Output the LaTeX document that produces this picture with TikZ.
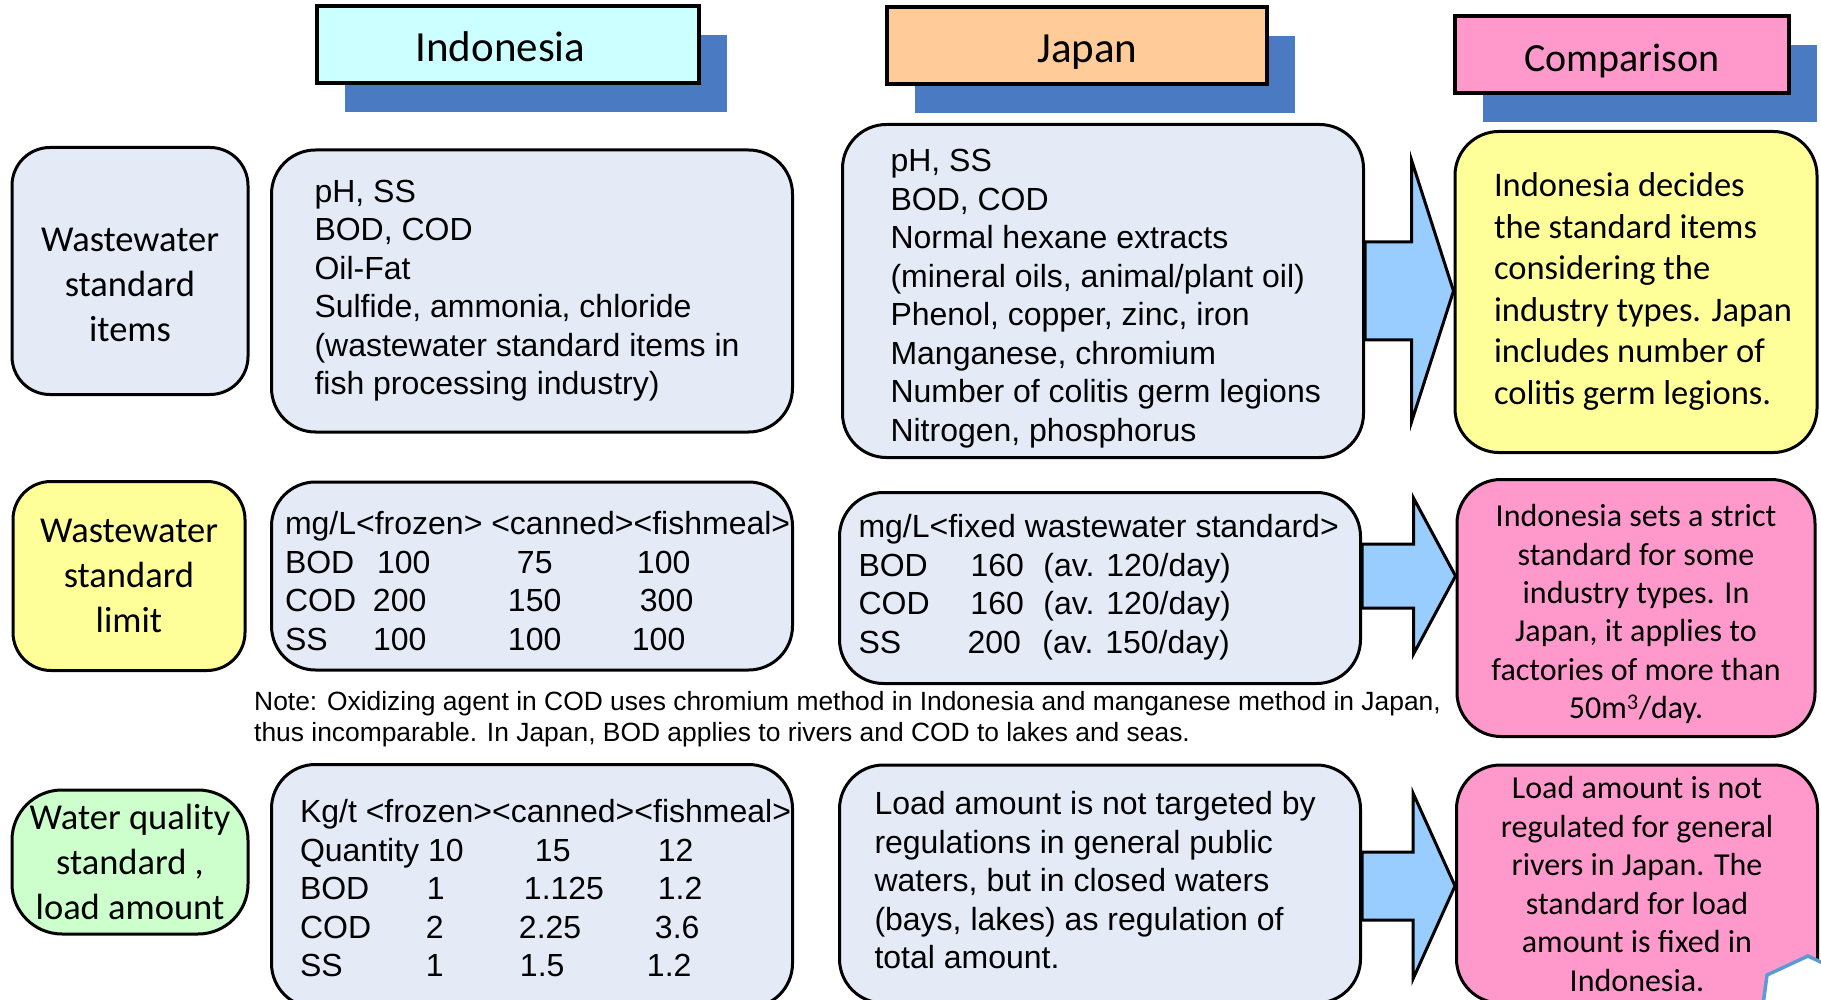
\documentclass[tikz,border=0pt]{standalone}
\usepackage{fontspec}
\setmainfont{Liberation Sans}
\newfontfamily\carlito{Carlito}
\usepackage{tikz}
\usetikzlibrary{positioning,calc,shadows}

\definecolor{bodyblue}{HTML}{E4EBF7}
\definecolor{lightyellow}{HTML}{FFFF99}
\definecolor{lightpink}{HTML}{FF99CC}
\definecolor{lightgreen}{HTML}{CCFFCC}
\definecolor{lightcyan}{HTML}{CCFFFF}
\definecolor{peach}{HTML}{FFCC99}
\definecolor{shadowblue}{HTML}{4A7BC2}
\definecolor{arrowblue}{HTML}{99CCFF}
\definecolor{badgeblue}{HTML}{5B9BD5}

% a cell of given width, and a left aligned block that may run over on the right
% (optional first argument: how far the text sits below the middle of its box)
\newcommand\tcell[2]{\makebox[#1pt][l]{#2}}
\newcommand\lefttext[3][0]{\raisebox{-#1pt}[\height][\depth]{\makebox[#2pt][l]{\begin{tabular}{@{}l@{}}#3\end{tabular}}}}
\newcommand\midtext[2]{\raisebox{-#1pt}[\height][\depth]{\begin{tabular}{@{}c@{}}#2\end{tabular}}}

\tikzset{
  headbox/.style={draw, line width=4pt, minimum height=77pt, inner sep=0pt,
    text height=34pt, text depth=0pt,
    font=\carlito\fontsize{43}{50}\selectfont,
    drop shadow={shadow xshift=28pt, shadow yshift=-29pt, fill=shadowblue, opacity=1}},
  labelbox/.style={draw, line width=3pt, rounded corners=38pt, minimum width=236pt,
    inner sep=0pt, align=center, font=\carlito\fontsize{36.5}{45}\selectfont},
  bodybox/.style={draw, line width=3pt, rounded corners=44pt, fill=bodyblue,
    minimum width=521pt, inner sep=0pt, font=\fontsize{32}{38.5}\selectfont},
  cmpbox/.style={draw, line width=3pt, rounded corners=44pt, inner sep=0pt,
    align=center, font=\carlito\fontsize{32}{37.5}\selectfont},
  bigarrow/.style={draw, line width=3pt, fill=arrowblue, line join=miter},
  badge/.style={draw=badgeblue, line width=3.5pt, fill=white}
}

\begin{document}
\begin{tikzpicture}[x=1pt, y=-1pt]
    \useasboundingbox (0,0) rectangle (1821,1000);

    % column heads
    \node[headbox, fill=lightcyan, minimum width=382pt] (hindo) at (508,45) {Indonesia\hspace*{15pt}};
    \node[headbox, fill=peach, minimum width=380pt] (hjapan) at (1077,46) {\hspace*{21pt}Japan};
    \node[headbox, fill=lightpink, minimum width=334pt,
          font=\carlito\fontsize{40}{48}\selectfont] (hcomp) at (1622,55) {Comparison};

    % standard items
    \node[labelbox, fill=bodyblue, minimum height=247pt] (lab1) at (130,271)
          {\midtext{17}{Wastewater\\standard\\items}};
    \node[bodybox, minimum height=282pt] (id1) at (532,291) {\lefttext{435}{pH, SS\\BOD, COD\\Oil-Fat\\Sulfide, ammonia, chloride\\(wastewater standard items in\\fish processing industry)}};
    \node[bodybox, minimum height=333pt, right=47pt of id1] (jp1) {\lefttext[8]{425}{pH, SS\\BOD, COD\\Normal hexane extracts\\(mineral oils, animal/plant oil)\\Phenol, copper, zinc, iron\\Manganese, chromium\\Number of colitis germ legions\\Nitrogen, phosphorus}};
    \node[cmpbox, fill=lightyellow, minimum width=362pt, minimum height=321pt,
          font=\carlito\fontsize{34.5}{41.5}\selectfont] (cmp1) at (1636,292)
          {\lefttext{284}{Indonesia decides\\the standard items\\considering the\\industry types. Japan\\includes number of\\colitis germ legions.}};

    % standard limit
    \node[labelbox, fill=lightyellow, minimum width=232pt, minimum height=189pt] (lab2) at (129,576) {Wastewater\\standard\\limit};
    \node[bodybox, minimum height=188pt] (id2) at (532,576) {\lefttext[9]{494}{mg/L<frozen> <canned><fishmeal>\\
        \tcell{92}{BOD}\tcell{140}{100}\tcell{120}{75}100\\
        \tcell{88}{COD}\tcell{135}{200}\tcell{132}{150}300\\
        \tcell{88}{SS}\tcell{135}{100}\tcell{124}{100}100}};
    \node[bodybox, minimum height=191pt] (jp2) at (1100,588) {\lefttext{483}{mg/L<fixed wastewater standard>\\
        \tcell{112}{BOD}\tcell{73}{160}(av. 120/day)\\
        \tcell{112}{COD}\tcell{73}{160}(av. 120/day)\\
        \tcell{109}{SS}\tcell{75}{200}(av. 150/day)}};
    \node[cmpbox, fill=lightpink, minimum width=358pt, minimum height=257pt,
          font=\carlito\fontsize{32}{38.3}\selectfont] (cmp2) at (1636,608)
          {\midtext{7}{Indonesia sets a strict\\standard for some\\industry types. In\\Japan, it applies to\\factories of more than\\50m\textsuperscript{3}/day.}};
    \node[anchor=west, align=left, inner sep=0pt, font=\fontsize{26.4}{31}\selectfont] (note) at (254,719)
          {Note: Oxidizing agent in COD uses chromium method in Indonesia and manganese method in Japan,\\thus incomparable. In Japan, BOD applies to rivers and COD to lakes and seas.};

    % load amount
    \node[labelbox, fill=lightgreen, rounded corners=50pt, minimum height=144pt] (lab3) at (130,862) {Water quality\\standard ,\\load amount};
    \node[bodybox, minimum height=243pt] (id3) at (532,886) {\lefttext[6]{464}{Kg/t <frozen><canned><fishmeal>\\
        \tcell{235}{Quantity 10}\tcell{123}{15}12\\
        \tcell{127}{BOD}\tcell{97}{1}\tcell{134}{1.125}1.2\\
        \tcell{126}{COD}\tcell{93}{2}\tcell{136}{2.25}3.6\\
        \tcell{126}{SS}\tcell{94}{1}\tcell{127}{1.5}1.2}};
    \node[bodybox, minimum height=238pt] (jp3) at (1100,884) {\lefttext{451}{Load amount is not targeted by\\regulations in general public\\waters, but in closed waters\\(bays, lakes) as regulation of\\total amount.}};
    \node[cmpbox, fill=lightpink, minimum width=361pt, minimum height=238pt,
          font=\carlito\fontsize{32}{38.6}\selectfont] (cmp3) at (1637,884)
          {Load amount is not\\regulated for general\\rivers in Japan. The\\standard for load\\amount is fixed in\\Indonesia.};

    % block arrows from Japan to comparison
    \foreach \r/\s/\h in {1/49/131, 2/32/78, 3/34/93}
        \draw[bigarrow] (cmp\r.west |- id\r.center) -- ++(-42,-\h) -- ++(0,\h-\s)
            -- ($(jp\r.east |- id\r.center)+(0,-\s)$) -- ++(0,2*\s)
            -- ($(cmp\r.west |- id\r.center)+(-42,\s)$) -- ++(0,\h-\s) -- cycle;

    % page badge, cut by the page edge
    \draw[badge] (1762,1012) -- (1767,975) -- (1808,956) -- (1848,975) -- (1852,1012) -- cycle;
\end{tikzpicture}
\end{document}
